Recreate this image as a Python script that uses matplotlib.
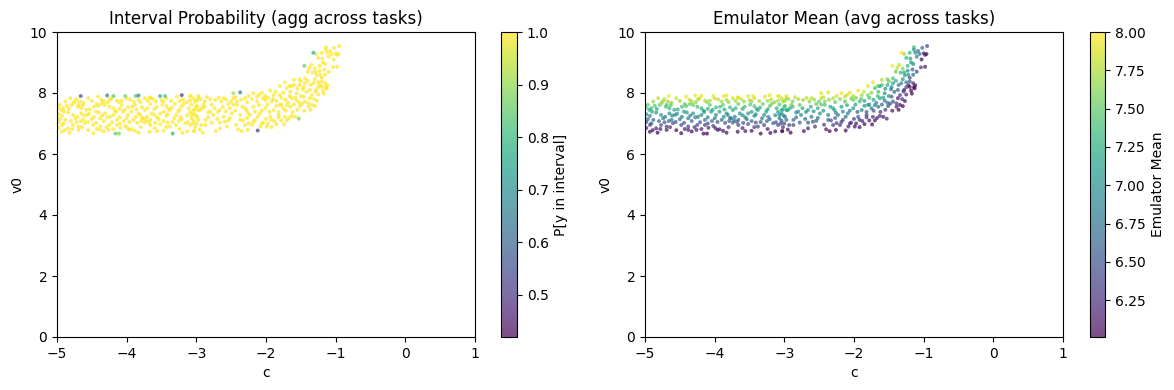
import matplotlib
matplotlib.use("Agg")
import matplotlib.pyplot as plt

c_main = [
 -4.41,-3.66,-3.09,-2.97,
 -4.96,-4.88,-4.81,-4.74,-4.67,-4.55,-4.43,-4.33,-4.24,-4.14,-4.07,-3.95,-3.83,-3.74,-3.62,-3.50,-3.43,-3.28,-3.19,-3.09,-2.99,
 -4.91,-4.79,-4.69,-4.65,-4.53,-4.41,-4.31,-4.19,-4.07,-3.98,-3.88,-3.78,-3.66,-3.57,-3.43,-3.31,-3.21,-3.11,-2.99,
 -4.90,-4.77,-4.65,-4.57,-4.44,-4.31,-4.19,-4.05,-3.93,-3.83,-3.74,-3.64,-3.52,-3.38,-3.26,-3.04,-2.97,
 -4.96,-4.88,-4.74,-4.62,-4.50,-4.38,-4.28,-4.14,-4.00,-3.90,-3.76,-3.66,-3.54,-3.43,-3.32,-3.21,-3.07,-2.97,
 -4.93,-4.84,-4.77,-4.69,-4.60,-4.48,-4.38,-4.25,-4.14,-4.02,-3.93,-3.74,-3.66,-3.52,-3.38,-3.29,-3.16,-3.09,
 -4.93,-4.82,-4.69,-4.48,-4.38,-4.26,-3.96,-3.83,-3.67,-3.56,-3.20,-3.13,-3.03,
 -1.14,-1.02,-0.95,-1.20,-1.12,-1.06,-0.98,-1.10,-1.19,-1.28,-0.96,
 -1.35,-1.23,-1.15,-1.04,-0.98,-1.40,-1.33,-1.28,-1.23,-1.16,-1.10,
 -1.20,-1.15,-1.14,-1.18,-1.25,-1.32,-1.44,-1.52,-1.60,-1.73,-1.80,-1.52,-1.44,-1.36,-1.46,-1.60,-1.66,-1.28,-1.22,
 -2.18,-2.06,-1.94,-1.86,-1.75,-1.65,-1.56,-1.42,-1.34,-1.20,
 -3.08,-2.97,-2.85,-2.73,-2.61,-2.47,-2.30,-2.25,-2.13,-2.01,-1.89,-1.80,-1.63,-1.46,-1.27,-1.37,
 -3.02,-2.90,-2.78,-2.64,-2.54,-2.42,-2.30,-2.13,-2.01,-1.92,-1.80,-1.68,-1.56,-1.44,-1.34,
 -3.04,-2.92,-2.80,-2.66,-2.52,-2.42,-2.28,-2.16,-2.01,-1.89,-1.75,-1.65,-1.51,-1.39,-1.30,
 -3.07,-2.99,-2.87,-2.76,-2.61,-2.49,-2.37,-2.23,-2.09,-1.94,-1.82,-1.73,-1.63,
 -3.04,-2.87,-2.78,-2.66,-2.54,-2.37,-2.25,-2.16,-2.04,-1.92,-1.82,-1.74,
 -3.03,-2.91,-2.72,-2.66,-2.56,-2.40,-2.30,-2.20,-2.08,-1.99,-1.92,-2.26,-2.35,
 -4.72,-4.62,-4.50,-4.36,-4.27,-4.22,-4.11,-4.00,-3.90,-3.80,-3.70,-3.67,-3.58,-3.47,-3.36,-3.24,-3.14,-3.04,
 -4.99,-4.94,-4.86,-4.83,-4.76,-4.70,-4.63,-4.58,-4.47,-4.36,-4.25,-4.16,-4.10,-4.03,-3.92,-3.86,-3.70,-3.60,-3.49,-3.40,-3.35,-3.24,-3.18,-3.07,-3.02,
 -4.98,-4.93,-4.84,-4.71,-4.61,-4.54,-4.47,-4.40,-4.35,-4.24,-4.15,-4.10,-3.98,-3.87,-3.81,-3.78,-3.71,-3.60,-3.56,-3.47,-3.41,-3.29,-3.23,-3.13,-3.09,-3.01,
 -4.98,-4.91,-4.80,-4.72,-4.66,-4.56,-4.44,-4.33,-4.21,-4.10,-4.04,-3.96,-3.85,-3.79,-3.72,-3.68,-3.59,-3.47,-3.41,-3.34,-3.25,-3.12,-3.05,
 -4.98,-4.89,-4.78,-4.64,-4.55,-4.43,-4.33,-4.29,-4.19,-4.09,-3.99,-3.88,-3.80,-3.60,-3.47,-3.43,-3.24,-3.02,-2.95,
 -2.94,-2.88,-2.80,-2.68,-2.57,-2.50,-2.44,-2.36,-2.27,-2.20,-2.10,-2.04,-1.97,-1.90,-1.85,-1.78,-1.72,-1.66,-1.58,-1.52,-1.50,-1.39,-1.31,-1.25,
 -3.00,-2.95,-2.88,-2.83,-2.74,-2.69,-2.62,-2.58,-2.47,-2.44,-2.34,-2.26,-2.18,-2.10,-2.06,-1.98,-1.95,-1.85,-1.82,-1.78,-1.72,-1.70,-1.62,-1.60,-1.55,-1.48,-1.45,-1.36,
 -3.00,-2.93,-2.83,-2.70,-2.59,-2.52,-2.43,-2.33,-2.27,-2.18,-2.12,-2.06,-2.00,-1.97,-1.88,-1.85,-1.78,-1.70,-1.67,-1.58,
 -1.70,-1.63,-1.55,-1.50,-1.47,-1.40,-1.37,-1.30,-1.29,-1.25,-1.20,-1.17,-1.13,-1.12,-1.15,-1.22,-1.27,-1.03,-1.00,-1.08,-1.14,-1.25,-1.18,-1.30,-1.38,
]
v0_main = [
 7.88,7.85,7.90,7.83,
 7.61,7.72,7.83,7.74,7.72,7.83,7.64,7.72,7.79,7.75,7.75,7.79,7.77,7.83,7.80,7.77,7.83,7.88,7.79,7.75,7.75,
 7.50,7.61,7.61,7.50,7.46,7.57,7.61,7.50,7.61,7.53,7.61,7.53,7.64,7.55,7.57,7.64,7.57,7.50,7.57,
 7.39,7.28,7.33,7.28,7.39,7.33,7.28,7.39,7.39,7.33,7.44,7.33,7.33,7.44,7.39,7.33,7.44,
 7.14,7.12,7.17,7.12,7.14,7.17,7.20,7.12,7.17,7.12,7.17,7.12,7.14,7.25,7.17,7.14,7.17,7.12,
 6.95,6.84,6.95,6.90,7.01,6.95,6.90,6.95,6.95,6.92,6.81,7.03,6.95,6.98,6.90,6.95,7.01,6.95,
 6.73,6.70,6.79,6.68,6.79,6.79,6.79,6.70,6.73,6.75,6.69,6.74,6.75,
 9.50,9.48,9.54,9.32,9.32,9.28,9.25,9.19,9.13,9.28,9.28,
 8.92,8.89,8.95,8.84,8.86,8.70,8.67,8.67,8.73,8.77,8.70,
 8.50,8.32,8.19,8.08,8.19,8.32,8.48,8.45,8.43,8.35,8.23,8.26,8.32,8.26,8.19,8.26,8.23,8.10,8.26,
 7.99,8.01,8.08,8.04,8.01,8.04,7.99,8.04,7.93,8.20,
 7.90,7.90,7.86,7.77,7.83,7.83,7.83,7.90,7.88,7.90,7.93,7.93,7.83,7.88,7.74,7.83,
 7.72,7.61,7.61,7.72,7.64,7.72,7.50,7.72,7.77,7.72,7.61,7.68,7.75,7.72,7.61,
 7.44,7.50,7.39,7.44,7.50,7.61,7.44,7.39,7.50,7.44,7.50,7.55,7.57,7.55,7.57,
 7.28,7.22,7.12,7.28,7.22,7.33,7.28,7.28,7.33,7.22,7.28,7.22,7.25,
 7.09,6.95,7.03,7.03,7.09,7.12,7.01,7.12,7.03,7.12,7.20,6.97,
 6.75,6.70,6.75,6.84,6.90,6.81,6.95,6.95,6.90,6.90,6.88,6.79,6.75,
 7.80,7.68,7.74,7.78,7.70,7.82,7.70,7.82,7.72,7.70,7.74,7.85,7.72,7.72,7.74,7.74,7.70,7.82,
 7.52,7.45,7.58,7.48,7.68,7.55,7.60,7.45,7.55,7.63,7.55,7.42,7.48,7.45,7.55,7.46,7.50,7.48,7.62,7.48,7.52,7.46,7.65,7.62,7.46,
 7.30,7.25,7.36,7.22,7.26,7.32,7.22,7.36,7.26,7.22,7.38,7.20,7.28,7.22,7.28,7.18,7.22,7.27,7.20,7.38,7.30,7.28,7.22,7.27,7.38,7.26,
 7.05,7.00,7.08,7.04,7.08,7.05,7.02,7.08,7.04,7.00,7.08,7.05,7.02,7.08,7.10,7.05,7.02,7.08,7.03,7.05,7.08,7.04,7.00,
 6.85,6.78,6.82,6.88,6.78,6.82,6.74,6.88,6.82,6.86,6.85,6.76,6.88,6.85,6.76,6.88,6.82,6.88,6.80,
 7.80,7.72,7.80,7.84,7.78,7.72,7.86,7.78,7.70,7.80,7.94,7.82,7.84,7.80,7.74,7.84,7.78,7.90,7.85,7.68,7.90,7.66,7.80,7.95,
 7.56,7.44,7.55,7.36,7.50,7.38,7.55,7.40,7.62,7.42,7.55,7.35,7.55,7.60,7.42,7.62,7.38,7.58,7.38,7.62,7.42,7.60,7.38,7.62,7.45,7.65,7.42,7.45,
 7.00,6.95,7.20,7.15,7.06,7.18,6.96,7.10,7.18,7.05,7.22,7.00,7.15,7.00,7.08,6.98,7.10,7.10,7.18,7.22,
 8.16,8.22,8.14,8.38,8.12,8.40,8.10,8.45,8.05,8.35,8.38,7.98,8.15,8.25,8.60,8.60,8.58,9.10,9.30,9.38,9.42,9.15,9.00,8.80,8.82,
]
mean_main = [
 7.95,7.9,7.95,7.8,
 7.5,7.65,7.8,7.7,7.7,7.85,7.55,7.7,7.8,7.75,7.75,7.8,7.75,7.85,7.8,7.75,7.85,7.9,7.8,7.75,7.7,
 7.35,7.5,7.5,7.3,7.25,7.45,7.5,7.3,7.5,7.35,7.5,7.35,7.55,7.4,7.45,7.55,7.45,7.3,7.4,
 7.15,7.0,7.05,6.95,7.15,7.05,6.95,7.15,7.15,7.05,7.2,7.05,7.05,7.2,7.15,7.0,7.2,
 6.75,6.7,6.8,6.7,6.75,6.8,6.85,6.7,6.8,6.7,6.8,6.7,6.75,6.9,6.8,6.7,6.8,6.7,
 6.45,6.2,6.45,6.35,6.55,6.45,6.35,6.45,6.4,6.35,6.15,6.6,6.45,6.5,6.35,6.4,6.55,6.4,
 6.05,6.02,6.15,6.02,6.15,6.15,6.15,6.05,6.05,6.1,6.02,6.08,6.1,
 7.35,6.7,6.4,7.3,7.0,6.6,6.1,6.85,7.2,7.7,6.02,
 7.8,7.3,6.9,6.3,6.1,7.5,7.3,7.2,7.0,6.6,6.4,
 6.5,6.2,6.05,6.02,6.4,6.9,7.4,7.6,7.75,7.95,7.9,7.2,7.1,6.8,6.9,7.4,7.6,6.1,6.2,
 7.95,7.9,7.95,7.85,7.65,7.4,7.0,6.6,6.3,6.02,
 7.95,7.9,7.85,7.7,7.8,7.8,7.75,7.85,7.8,7.75,7.7,7.55,7.1,6.6,6.02,6.1,
 7.7,7.55,7.5,7.6,7.5,7.6,7.2,7.5,7.55,7.4,7.1,6.95,6.85,6.5,6.1,
 7.2,7.3,7.05,7.15,7.25,7.45,7.1,6.95,7.05,6.85,6.85,6.75,6.5,6.2,6.02,
 6.95,6.85,6.65,6.9,6.8,7.0,6.85,6.8,6.85,6.5,6.5,6.25,6.15,
 6.6,6.4,6.55,6.5,6.6,6.6,6.4,6.5,6.3,6.3,6.35,6.02,
 6.08,6.02,6.05,6.2,6.3,6.1,6.35,6.3,6.15,6.1,6.03,6.02,6.03,
 7.8,7.65,7.7,7.8,7.65,7.8,7.65,7.8,7.7,7.65,7.7,7.9,7.65,7.65,7.7,7.7,7.65,7.8,
 7.35,7.2,7.45,7.25,7.65,7.4,7.5,7.2,7.4,7.55,7.4,7.15,7.25,7.2,7.4,7.2,7.3,7.25,7.5,7.25,7.3,7.2,7.55,7.5,7.2,
 6.95,6.9,7.1,6.85,6.9,7.0,6.85,7.1,6.9,6.85,7.1,6.85,7.0,6.85,6.95,6.8,6.85,6.95,6.85,7.1,7.0,6.95,6.85,6.95,7.1,6.9,
 6.55,6.45,6.65,6.55,6.65,6.55,6.5,6.65,6.55,6.45,6.65,6.55,6.5,6.65,6.7,6.55,6.5,6.65,6.5,6.55,6.65,6.55,6.45,
 6.2,6.05,6.15,6.25,6.05,6.15,6.05,6.3,6.15,6.25,6.2,6.05,6.3,6.2,6.05,6.3,6.15,6.25,6.1,
 7.75,7.6,7.75,7.8,7.7,7.55,7.8,7.65,7.5,7.65,7.85,7.6,7.6,7.45,7.25,7.45,7.2,7.4,7.15,6.7,7.05,6.35,6.25,6.2,
 7.45,7.15,7.4,7.0,7.25,6.95,7.3,7.0,7.45,7.05,7.25,6.85,7.15,7.2,6.8,7.15,6.6,7.0,6.55,6.95,6.5,6.75,6.3,6.7,6.35,6.55,6.1,6.03,
 6.45,6.35,6.75,6.65,6.5,6.7,6.3,6.5,6.6,6.35,6.65,6.2,6.4,6.1,6.2,6.05,6.15,6.1,6.15,6.1,
 7.4,7.2,6.95,7.5,6.8,7.25,6.6,7.05,6.3,6.8,6.5,6.02,6.02,6.05,6.7,7.0,7.15,6.05,6.2,6.7,7.0,7.3,7.0,7.6,7.8,
]

# points with a visibly lower interval probability
c_low = [-4.66,-4.28,-4.19,-4.02,-3.87,-3.83,-3.52,-3.45,-3.21,-4.16,-4.11,-3.34,-1.32,-1.45,-2.47,-2.37,-1.53,-2.12]
v0_low = [7.90,7.92,7.90,7.90,7.90,7.92,7.90,7.90,7.93,6.67,6.67,6.67,9.32,8.89,7.99,8.02,7.16,6.77]
mean_low = [7.95,7.95,7.95,7.95,7.95,7.95,7.95,7.95,7.95,6.02,6.02,6.02,8.0,7.95,7.9,7.9,6.2,6.05]
prob_low = [0.55,0.65,0.85,0.87,0.85,0.68,0.78,0.82,0.50,0.85,0.88,0.80,0.78,0.87,0.92,0.65,0.88,0.52]

c_all = c_main + c_low
v0_all = v0_main + v0_low
mean_all = mean_main + mean_low
prob_all = [1.0] * len(c_main) + prob_low

W, H = 1174, 390
fig = plt.figure(figsize=(W / 100, H / 100), dpi=100)

def box(x0, x1, y0=32, y1=337):
    return [x0 / W, 1 - y1 / H, (x1 - x0) / W, (y1 - y0) / H]

panels = [
    (57, 475, 501, 517, prob_all, 0.42, 1.0, "Interval Probability (agg across tasks)", "P[y in interval]"),
    (645, 1063, 1090, 1105, mean_all, 6.01, 8.0, "Emulator Mean (avg across tasks)", "Emulator Mean"),
]
for x0, x1, cx0, cx1, vals, vmin, vmax, title, label in panels:
    ax = fig.add_axes(box(x0, x1))
    sc = ax.scatter(c_all, v0_all, c=vals, s=6, alpha=0.7, cmap="viridis",
                    vmin=vmin, vmax=vmax, linewidths=0.3)
    ax.set_xlim(-5, 1)
    ax.set_ylim(0, 10)
    ax.set_xlabel("c")
    ax.set_ylabel("v0")
    ax.set_title(title)
    cax = fig.add_axes(box(cx0, cx1))
    cb = fig.colorbar(sc, cax=cax)
    cb.set_label(label)

fig.savefig("out.png", dpi=100)
